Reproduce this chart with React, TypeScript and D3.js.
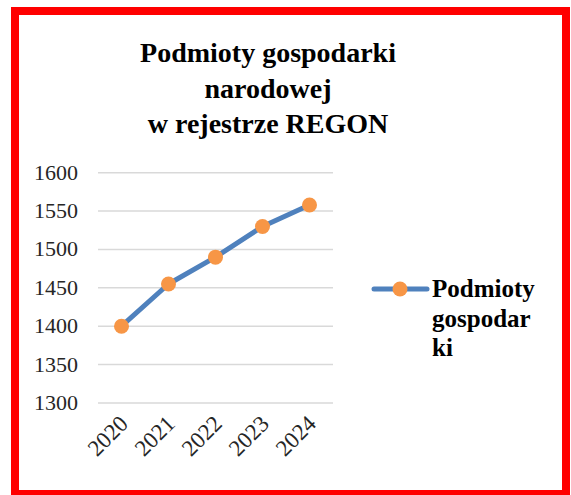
import React, { useRef, useEffect } from "react";
import * as d3 from "d3";

const years = ["2020", "2021", "2022", "2023", "2024"];
const values = [1400, 1455, 1490, 1530, 1558];
const yTicks = [1300, 1350, 1400, 1450, 1500, 1550, 1600];
const titleLines = ["Podmioty gospodarki", "narodowej", "w rejestrze REGON"];
const legendLines = ["Podmioty", "gospodar", "ki"];

const App = () => {
  const chartRef = useRef<SVGSVGElement | null>(null);

  const width = 571;
  const height = 495;
  const font = "'Liberation Serif', 'DejaVu Serif', 'Noto Serif', Times, 'Times New Roman', serif";
  const blue = "#4f81bd";
  const orange = "#f79646";

  useEffect(() => {
    const svg = d3.select(chartRef.current);
    svg.selectAll("*").remove();
    svg.attr("font-family", font);

    svg.append("rect").attr("width", width).attr("height", height).attr("fill", "white");

    // red frame
    svg
      .append("rect")
      .attr("x", 15)
      .attr("y", 11)
      .attr("width", 551)
      .attr("height", 483)
      .attr("fill", "none")
      .attr("stroke", "#ff0000")
      .attr("stroke-width", 8);

    svg
      .append("text")
      .attr("text-anchor", "middle")
      .attr("font-weight", "bold")
      .attr("font-size", 28)
      .selectAll("tspan")
      .data(titleLines)
      .enter()
      .append("tspan")
      .attr("x", 268)
      .attr("y", (d, i) => 62 + i * 35.5)
      .text((d) => d);

    const x = d3.scaleBand().domain(years).range([98, 333]);
    const y = d3.scaleLinear().domain([1300, 1600]).range([403, 172.7]);

    const g = svg.append("g");

    g.selectAll("grid")
      .data(yTicks)
      .enter()
      .append("line")
      .attr("x1", 98)
      .attr("x2", 333)
      .attr("y1", (d) => y(d))
      .attr("y2", (d) => y(d))
      .attr("stroke", "#d9d9d9")
      .attr("stroke-width", 1.5);

    g.selectAll("ylab")
      .data(yTicks)
      .enter()
      .append("text")
      .attr("x", 78)
      .attr("y", (d) => y(d) + 7)
      .attr("text-anchor", "end")
      .attr("font-size", 22)
      .attr("fill", "#262626")
      .text((d) => d);

    g.selectAll("xlab")
      .data(years)
      .enter()
      .append("text")
      .attr("transform", (d) => `translate(${x(d)! + x.bandwidth() / 2 + 8}, 425) rotate(-45)`)
      .attr("text-anchor", "end")
      .attr("font-size", 23)
      .attr("fill", "#262626")
      .text((d) => d);

    const line = d3
      .line<number>()
      .x((d, i) => x(years[i])! + x.bandwidth() / 2)
      .y((d) => y(d));

    g.append("path")
      .datum(values)
      .attr("d", line)
      .attr("fill", "none")
      .attr("stroke", blue)
      .attr("stroke-width", 5)
      .attr("stroke-linejoin", "round")
      .attr("stroke-linecap", "round");

    g.selectAll("dots")
      .data(values)
      .enter()
      .append("circle")
      .attr("cx", (d, i) => x(years[i])! + x.bandwidth() / 2)
      .attr("cy", (d) => y(d))
      .attr("r", 7.5)
      .attr("fill", orange);

    // legend
    const lg = svg.append("g");
    lg.append("line")
      .attr("x1", 374)
      .attr("x2", 427)
      .attr("y1", 289)
      .attr("y2", 289)
      .attr("stroke", blue)
      .attr("stroke-width", 5)
      .attr("stroke-linecap", "round");
    lg.append("circle").attr("cx", 400).attr("cy", 289).attr("r", 7.5).attr("fill", orange);
    lg.append("text")
      .attr("font-weight", "bold")
      .attr("font-size", 25)
      .selectAll("tspan")
      .data(legendLines)
      .enter()
      .append("tspan")
      .attr("x", 432)
      .attr("y", (d, i) => 297 + i * 29.5)
      .text((d) => d);
  }, []);

  return (
    <svg
      ref={chartRef}
      width={width}
      height={height}
      style={{ position: "absolute", left: 0, top: 0 }}
    ></svg>
  );
};

export default App;
